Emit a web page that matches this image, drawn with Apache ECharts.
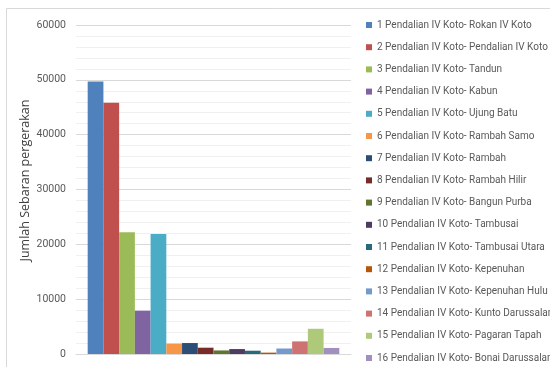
<!DOCTYPE html>
<html>
<head>
<meta charset="utf-8">
<script src="https://cdn.jsdelivr.net/npm/echarts@6/dist/echarts.min.js"></script>
<style>
  html, body { margin: 0; padding: 0; background: #fff; }
  #chart { width: 550px; height: 367px; }
</style>
</head>
<body>
<div id="chart"></div>
<script>
// Movement distribution per origin-destination pair
const seriesNames = [
  '1 Pendalian IV Koto- Rokan IV Koto',
  '2 Pendalian IV Koto- Pendalian IV Koto',
  '3 Pendalian IV Koto- Tandun',
  '4 Pendalian IV Koto- Kabun',
  '5 Pendalian IV Koto- Ujung Batu',
  '6 Pendalian IV Koto- Rambah Samo',
  '7 Pendalian IV Koto- Rambah',
  '8 Pendalian IV Koto- Rambah Hilir',
  '9 Pendalian IV Koto- Bangun Purba',
  '10 Pendalian IV Koto- Tambusai',
  '11 Pendalian IV Koto- Tambusai Utara',
  '12 Pendalian IV Koto- Kepenuhan',
  '13 Pendalian IV Koto- Kepenuhan Hulu',
  '14 Pendalian IV Koto- Kunto Darussalam',
  '15 Pendalian IV Koto- Pagaran Tapah',
  '16 Pendalian IV Koto- Bonai Darussalam'
];
const seriesValues = [49700, 45800, 22200, 7900, 21900, 1900, 2000, 1150, 650, 900, 600, 250, 1000, 2300, 4600, 1100];
const seriesColors = ['#4F81BD', '#C0504D', '#9BBB59', '#8064A2', '#4BACC6', '#F79646', '#2C4D75', '#772C2A',
  '#5F7530', '#4D3B62', '#276A7C', '#B65708', '#729ACA', '#CD7371', '#AFC97A', '#A18FBF'];
const categories = [''];
const yAxisTitle = 'Jumlah Sebaran pergerakan';

const chart = echarts.init(document.getElementById('chart'), null, { renderer: 'canvas' });

const series = seriesNames.map((name, i) => ({
  name: name,
  type: 'bar',
  data: [seriesValues[i]],
  itemStyle: { color: seriesColors[i] },
  barGap: '0%',
  barCategoryGap: '8.5%'
}));

chart.setOption({
  animation: false,
  backgroundColor: '#ffffff',
  graphic: [{
    type: 'rect',
    shape: { x: 6.5, y: 8.5, width: 700, height: 500 },
    style: { fill: 'none', stroke: '#d9d9d9', lineWidth: 1 },
    silent: true
  }],
  grid: { left: 76, right: 199, top: 25, bottom: 13, containLabel: false },
  legend: {
    orient: 'vertical',
    left: 366,
    top: 19.5,
    padding: 0,
    icon: 'rect',
    itemWidth: 6,
    itemHeight: 6,
    itemGap: 11.2,
    textStyle: {
      fontFamily: 'Roboto, "Liberation Sans", sans-serif',
      fontSize: 10,
      lineHeight: 11,
      color: '#595959'
    },
    data: seriesNames
  },
  xAxis: {
    type: 'category',
    data: categories,
    axisTick: { show: false },
    axisLabel: { show: false },
    axisLine: { lineStyle: { color: '#d9d9d9' } }
  },
  yAxis: {
    type: 'value',
    min: 0,
    max: 60000,
    interval: 10000,
    name: yAxisTitle,
    nameLocation: 'middle',
    nameRotate: 90,
    nameGap: 44,
    nameTextStyle: {
      fontFamily: '"Open Sans", "Liberation Sans", sans-serif',
      fontSize: 12.5,
      color: '#404040',
      padding: [0, 0, 0, 18]
    },
    axisLine: { show: false },
    axisTick: { show: false },
    axisLabel: {
      margin: 10,
      fontFamily: 'Roboto, "Liberation Sans", sans-serif',
      fontSize: 10.5,
      color: '#595959',
      formatter: v => String(v)
    },
    splitLine: { lineStyle: { color: '#d9d9d9' } },
    minorTick: { show: false, splitNumber: 5 },
    minorSplitLine: { show: true, lineStyle: { color: '#f0f0f0' } }
  },
  series: series
});
</script>
</body>
</html>
